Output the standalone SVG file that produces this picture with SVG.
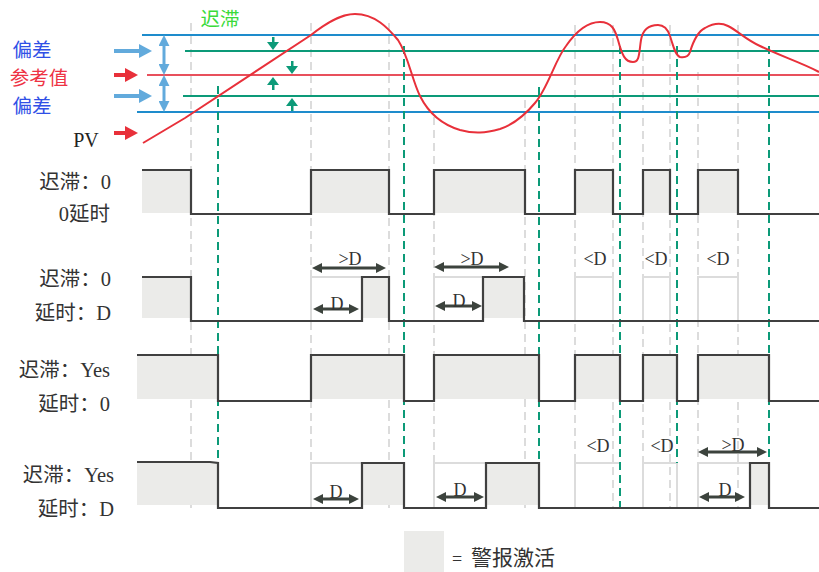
<svg xmlns="http://www.w3.org/2000/svg" width="819" height="572" viewBox="0 0 819 572">
<style>
.lbl{font-family:"Liberation Serif","Noto Sans CJK SC",serif;font-size:20.5px;fill:#333;text-anchor:end}
.dl{font-family:"Liberation Serif","Noto Sans CJK SC",serif;font-size:18px;fill:#333;text-anchor:middle}
.gd{stroke:#dcdcdc;stroke-width:2;stroke-dasharray:8 5;fill:none}
.td{stroke:#0c9a78;stroke-width:2;stroke-dasharray:8 5;fill:none}
.box{stroke:#dcdcdc;stroke-width:2;fill:none}
.sig{stroke:#404040;stroke-width:2.2;fill:none}
.fill{fill:#ebebe9}
.dar{stroke:#3c433d;stroke-width:3;marker-start:url(#ad);marker-end:url(#ad)}
.bar{stroke:#62aadc;stroke-width:3;marker-start:url(#ab);marker-end:url(#ab)}
.cj{font-family:"Noto Sans CJK SC",sans-serif;font-size:19.5px;text-anchor:middle}
</style>
<defs>
<marker id="ad" viewBox="0 0 10 10" refX="1" refY="5" markerWidth="10" markerHeight="10" markerUnits="userSpaceOnUse" orient="auto-start-reverse"><path d="M0,0 L10,5 L0,10 z" fill="#3c433d"/></marker>
<marker id="ab" viewBox="0 0 10 10" refX="1" refY="5" markerWidth="11" markerHeight="11" markerUnits="userSpaceOnUse" orient="auto-start-reverse"><path d="M0,0 L10,5 L0,10 z" fill="#62aadc"/></marker>
</defs>
<rect width="819" height="572" fill="#fff"/>

<g id="grid">
<path class="gd" d="M191,23V508M311,23V508M389,23V508M434,117V508M525,100V508M575,25V508M613,25V508M643,53V508M670,25V508M698,72V508M738,25V508"/>
</g>

<g id="levels">
<line x1="142" y1="35" x2="819" y2="35" stroke="#1e8ccc" stroke-width="2"/>
<line x1="185" y1="51" x2="819" y2="51" stroke="#0c9a78" stroke-width="2"/>
<line x1="147" y1="75" x2="819" y2="75" stroke="#e8505c" stroke-width="2"/>
<line x1="183" y1="96" x2="819" y2="96" stroke="#0c9a78" stroke-width="2"/>
<line x1="137" y1="112" x2="819" y2="112" stroke="#1e8ccc" stroke-width="2"/>
</g>

<g id="fills">
<rect class="fill" x="142" y="170" width="49" height="43"/>
<rect class="fill" x="311" y="170" width="78" height="43"/>
<rect class="fill" x="434" y="170" width="91" height="43"/>
<rect class="fill" x="575" y="170" width="38" height="43"/>
<rect class="fill" x="643" y="170" width="27" height="43"/>
<rect class="fill" x="698" y="170" width="40" height="43"/>
<rect class="fill" x="142" y="277" width="49" height="41"/>
<rect class="fill" x="362" y="277" width="27" height="41"/>
<rect class="fill" x="483" y="277" width="41" height="41"/>
<rect class="fill" x="137" y="355" width="81" height="44"/>
<rect class="fill" x="311" y="355" width="93" height="44"/>
<rect class="fill" x="434" y="355" width="105" height="44"/>
<rect class="fill" x="575" y="355" width="45" height="44"/>
<rect class="fill" x="643" y="355" width="34" height="44"/>
<rect class="fill" x="698" y="355" width="71" height="44"/>
<rect class="fill" x="137" y="463" width="81" height="42"/>
<rect class="fill" x="362" y="463" width="42" height="42"/>
<rect class="fill" x="486" y="463" width="53" height="42"/>
<rect class="fill" x="750" y="463" width="19" height="42"/>
</g>

<g id="boxes">
<path class="box" d="M311,321V277H362M434,321V277H483M575,321V277H613V321M643,321V277H670V321M698,321V277H738V321"/>
<path class="box" d="M311,508V463H362M434,508V463H486M575,508V463H620M643,508V463H677V508M698,508V463H750"/>
</g>

<g id="connectors">
<path class="td" d="M218,86V508M404,46V463M539,87V508M620,46V508M677,46V463M769,46V463"/>
<path d="M143,143 L185,118 L311,35 C325,24 340,14 355,14 C375,14 388,28 398,40 C408,55 412,80 420,96 C428,112 440,124 460,130 C475,134 485,133 500,129 C515,124 525,115 535,103 C548,88 555,60 566,46 C575,33 587,22 600,22 C612,22 615,30 618,40 C622,55 625,62 633,62 C640,62 639,52 641,40 C643,28 650,25 658,25 C665,25 668,30 670,36 C673,45 675,55 680,57 C686,58 689,55 690,52 C693,42 697,32 705,28 C712,24 720,22 728,26 C738,31 745,39 760,46 C780,56 800,62 819,72" fill="none" stroke="#e8303a" stroke-width="2"/>
<path class="sig" d="M142,170H191V214H311V170H389V214H434V170H525V214H575V170H613V214H643V170H670V214H698V170H738V214H819"/>
<path class="sig" d="M142,277H191V321H362V277H389V321H483V277H524V321H819"/>
<path class="sig" d="M137,355H218V401H311V355H404V401H434V355H539V401H575V355H620V401H643V355H677V401H698V355H769V401H819"/>
<path class="sig" d="M137,462H210L218,463V508H362V463H404V508H486V463H539V508H750V463H769V508H819"/>
<line class="dar" x1="321" y1="268" x2="377" y2="268"/>
<line class="dar" x1="322" y1="309" x2="350" y2="309"/>
<line class="dar" x1="443" y1="267" x2="500" y2="267"/>
<line class="dar" x1="444" y1="306" x2="473" y2="306"/>
<line class="dar" x1="322" y1="499" x2="350" y2="499"/>
<line class="dar" x1="445" y1="497" x2="475" y2="497"/>
<line class="dar" x1="707" y1="452" x2="758" y2="452"/>
<line class="dar" x1="708" y1="497" x2="736" y2="497"/>
<line class="bar" x1="164" y1="45" x2="164" y2="65"/>
<line class="bar" x1="164" y1="85" x2="164" y2="102"/>
<g fill="#62aadc">
<rect x="114" y="49" width="28" height="4"/><path d="M139,44L152,51L139,58z"/>
<rect x="114" y="94" width="28" height="4"/><path d="M139,89L152,96L139,103z"/>
</g>
<g fill="#e8303a">
<rect x="114" y="73" width="14" height="4"/><path d="M125,68L138,75L125,82z"/>
<rect x="114" y="131" width="14" height="4"/><path d="M125,126L138,133L125,140z"/>
</g>
<g fill="#0c9a78" stroke="none">
<rect x="272" y="37" width="2.5" height="7"/><path d="M267,42L279,42L273,50z"/>
<rect x="291" y="61" width="2.5" height="7"/><path d="M286,66L298,66L292,74z"/>
<rect x="272" y="83" width="2.5" height="7"/><path d="M267,85L279,85L273,77z"/>
<rect x="291" y="104" width="2.5" height="7"/><path d="M286,106L298,106L292,98z"/>
</g>
</g>

<g id="labels">
<text class="cj" x="32" y="57" fill="#3050e6">偏差</text>
<text class="cj" x="39" y="85" fill="#ee3344" font-size="20.5">参考值</text>
<text class="cj" x="32" y="113" fill="#3050e6">偏差</text>
<text x="86" y="147" font-family="Liberation Serif,serif" font-size="20" fill="#222" text-anchor="middle">PV</text>
<text class="cj" x="220" y="26" fill="#3ada3a">迟滞</text>
<text class="lbl" x="111" y="189">迟滞：0</text>
<text class="lbl" x="110" y="221">0延时</text>
<text class="lbl" x="111" y="286">迟滞：0</text>
<text class="lbl" x="111" y="320">延时：D</text>
<text class="lbl" x="110" y="377">迟滞：Yes</text>
<text class="lbl" x="110" y="411">延时：0</text>
<text class="lbl" x="114" y="482">迟滞：Yes</text>
<text class="lbl" x="114" y="516">延时：D</text>
<text class="dl" x="350" y="265">&gt;D</text>
<text class="dl" x="337" y="310">D</text>
<text class="dl" x="472" y="265">&gt;D</text>
<text class="dl" x="459" y="307">D</text>
<text class="dl" x="595" y="265">&lt;D</text>
<text class="dl" x="656" y="265">&lt;D</text>
<text class="dl" x="718" y="265">&lt;D</text>
<text class="dl" x="336" y="498">D</text>
<text class="dl" x="460" y="496">D</text>
<text class="dl" x="598" y="452">&lt;D</text>
<text class="dl" x="662" y="452">&lt;D</text>
<text class="dl" x="733" y="451">&gt;D</text>
<text class="dl" x="725" y="496">D</text>
</g>

<g id="legend">
<rect class="fill" x="404" y="531" width="40" height="41"/>
<text x="452" y="565" font-family="Liberation Serif,serif" font-size="18" fill="#333">=</text>
<text x="471" y="565" font-family="Noto Sans CJK SC,sans-serif" font-size="21" fill="#333">警报激活</text>
</g>
</svg>
